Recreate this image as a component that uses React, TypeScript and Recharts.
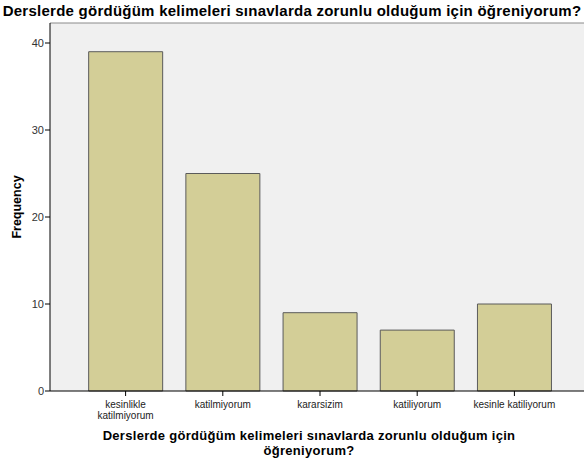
import React from "react";
import { BarChart, Bar, XAxis, YAxis, CartesianGrid, ReferenceLine } from "recharts";

const categories = ["kesinlikle katilmiyorum", "katilmiyorum", "kararsizim", "katiliyorum", "kesinle katiliyorum"];
const frequencies = [39, 25, 9, 7, 10];
const yTicks = [0, 10, 20, 30, 40];
const tickLabelLines: string[][] = [["kesinlikle", "katilmiyorum"], ["katilmiyorum"], ["kararsizim"], ["katiliyorum"], ["kesinle katiliyorum"]];
const chartTitle = "Derslerde gördüğüm kelimeleri sınavlarda zorunlu olduğum için öğreniyorum?";
const xTitleLines = ["Derslerde gördüğüm kelimeleri sınavlarda zorunlu olduğum için", "öğreniyorum?"];
const yTitle = "Frequency";

const data = categories.map((name, i) => ({ name, value: frequencies[i] }));

const FONT = "'Liberation Sans', Arial, sans-serif";
const Y_MAX = 42.3;

const XTick = (props: any) => {
  const { x, y, index } = props;
  const lines = tickLabelLines[index] || [props.payload.value];
  return (
    <text x={x} y={y} textAnchor="middle" fontSize={10} fill="#222" fontFamily={FONT}>
      {lines.map((l, i) => (
        <tspan key={i} x={x} dy={i === 0 ? 10 : 11}>
          {l}
        </tspan>
      ))}
    </text>
  );
};

export default function App() {
  return (
    <div style={{ position: "absolute", left: 0, top: 0, width: 584, height: 464, background: "#fff", fontFamily: FONT }}>
      <div
        style={{
          position: "absolute",
          left: -10,
          top: 2,
          width: 604,
          textAlign: "center",
          fontSize: 15,
          letterSpacing: 0.25,
          fontWeight: "bold",
          color: "#000",
          whiteSpace: "nowrap",
          lineHeight: "18px",
        }}
      >
        {chartTitle}
      </div>
      <BarChart
        width={584}
        height={464}
        data={data}
        margin={{ top: 23, right: 0, left: 0, bottom: 0 }}
        barCategoryGap="12%"
      >
        <CartesianGrid horizontal={false} vertical={false} fill="#f0f0f0" />
        <ReferenceLine y={Y_MAX} stroke="#8a8a8a" strokeWidth={1} />
        <XAxis
          dataKey="name"
          interval={0}
          height={73}
          tickSize={5}
          tickLine={{ stroke: "#000" }}
          axisLine={{ stroke: "#000" }}
          padding={{ left: 27, right: 21 }}
          tick={<XTick />}
        />
        <YAxis
          width={50}
          domain={[0, Y_MAX]}
          ticks={yTicks}
          tickSize={5}
          tickLine={{ stroke: "#000" }}
          axisLine={{ stroke: "#000" }}
          tick={{ fontSize: 11, fill: "#333", fontFamily: FONT }}
          tickMargin={1}
        />
        <Bar dataKey="value" fill="#d3ce97" stroke="#5b5b5b" strokeWidth={1} isAnimationActive={false} />
      </BarChart>
      <div
        style={{
          position: "absolute",
          left: 17 - 60,
          top: 207 - 8,
          width: 120,
          height: 16,
          lineHeight: "16px",
          textAlign: "center",
          transform: "rotate(-90deg)",
          fontSize: 12.5,
          fontWeight: "bold",
          color: "#000",
        }}
      >
        {yTitle}
      </div>
      <div
        style={{
          position: "absolute",
          left: 309 - 260,
          top: 428,
          width: 520,
          textAlign: "center",
          fontSize: 13,
          letterSpacing: 0.3,
          fontWeight: "bold",
          color: "#000",
          lineHeight: "15px",
          whiteSpace: "nowrap",
        }}
      >
        {xTitleLines.map((l, i) => (
          <div key={i}>{l}</div>
        ))}
      </div>
    </div>
  );
}
